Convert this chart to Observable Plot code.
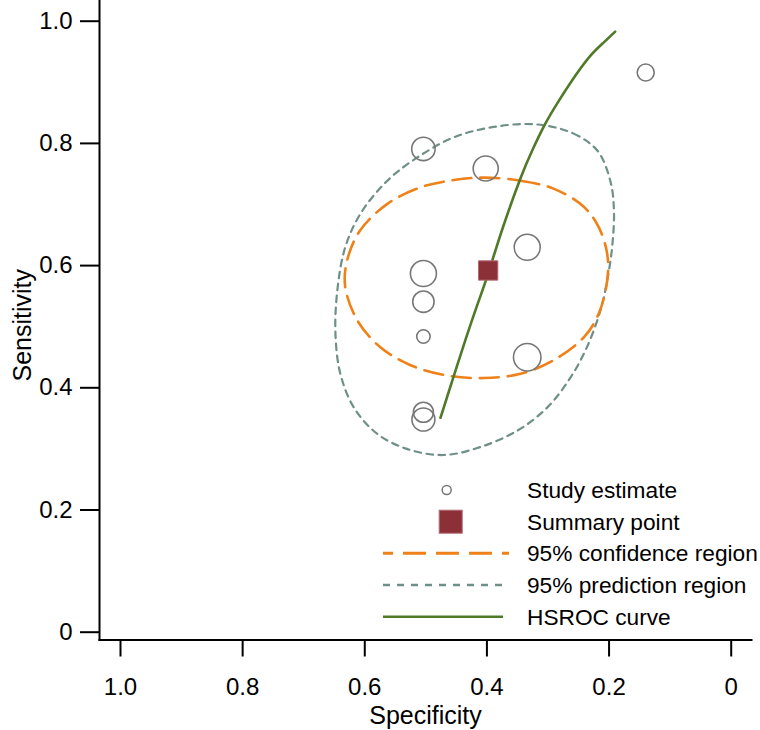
<!DOCTYPE html>
<html>
<head>
<meta charset="utf-8">
<script src="https://cdn.jsdelivr.net/npm/d3@7"></script>
<script src="https://cdn.jsdelivr.net/npm/@observablehq/plot@0.6"></script>
<style>
  html, body { margin: 0; padding: 0; background: #fff; }
  #chart { position: relative; width: 760px; height: 730px; font-family: "Liberation Sans", Arial, Helvetica, sans-serif; }
  #legend { position: absolute; left: 380px; top: 465px; }
</style>
</head>
<body>
<div id="chart"></div>
<script>
// ---- Data ----
const studySpec   = [0.504, 0.402, 0.504, 0.504, 0.504, 0.334, 0.334, 0.504, 0.504, 0.140];
const studySens   = [0.791, 0.759, 0.587, 0.541, 0.484, 0.630, 0.450, 0.360, 0.348, 0.916];
const studyWeight = [137, 156, 169, 114, 45, 169, 188, 100, 132, 72];

const summarySpec = [0.398];
const summarySens = [0.592];

const hsrocSpec = [0.476, 0.455, 0.434, 0.416, 0.398, 0.374, 0.345, 0.326, 0.305, 0.282, 0.255, 0.230, 0.209, 0.190];
const hsrocSens = [0.351, 0.417, 0.482, 0.535, 0.587, 0.662, 0.743, 0.788, 0.831, 0.870, 0.911, 0.944, 0.965, 0.983];

const confSpec = [0.405, 0.345, 0.291, 0.241, 0.217, 0.203, 0.203, 0.217, 0.241, 0.291, 0.345, 0.405, 0.465, 0.525, 0.574, 0.612, 0.632, 0.629, 0.608, 0.563, 0.509, 0.454];
const confSens = [0.744, 0.739, 0.726, 0.696, 0.663, 0.619, 0.576, 0.521, 0.483, 0.445, 0.423, 0.416, 0.420, 0.437, 0.466, 0.510, 0.565, 0.608, 0.657, 0.701, 0.728, 0.740];

const predSpec = [0.318, 0.258, 0.219, 0.198, 0.192, 0.195, 0.203, 0.214, 0.236, 0.263, 0.301, 0.350, 0.411, 0.471, 0.531, 0.580, 0.618, 0.640, 0.648, 0.645, 0.632, 0.607, 0.563, 0.514, 0.454, 0.389];
const predSens = [0.831, 0.816, 0.788, 0.739, 0.690, 0.630, 0.576, 0.527, 0.467, 0.417, 0.368, 0.330, 0.303, 0.290, 0.300, 0.325, 0.368, 0.423, 0.488, 0.559, 0.630, 0.685, 0.739, 0.777, 0.810, 0.827];

const tickValues = [0, 0.2, 0.4, 0.6, 0.8, 1.0];
const tickLabels = ["0", "0.2", "0.4", "0.6", "0.8", "1.0"];

const xTitle = "Specificity";
const yTitle = "Sensitivity";
const legendLabels = ["Study estimate", "Summary point", "95% confidence region", "95% prediction region", "HSROC curve"];

// ---- Tables built from the arrays ----
const studies = studySpec.map((s, i) => ({spec: s, sens: studySens[i], w: studyWeight[i]}));
const summary = summarySpec.map((s, i) => ({spec: s, sens: summarySens[i]}));
const hsroc = hsrocSpec.map((s, i) => ({spec: s, sens: hsrocSens[i]}));
const conf = confSpec.map((s, i) => ({spec: s, sens: confSens[i]}));
const pred = predSpec.map((s, i) => ({spec: s, sens: predSens[i]}));

const fmt = d => tickLabels[tickValues.findIndex(t => Math.abs(t - d) < 1e-9)];

const COL = {
  conf: "#ef8119",
  pred: "#6e9088",
  hsroc: "#4f7a28",
  summary: "#8c3037",
  summaryStroke: "#b16a70",
  study: "#777777"
};
const FONT = '"Liberation Sans", Arial, Helvetica, sans-serif';

const plot = Plot.plot({
  width: 760,
  height: 730,
  marginLeft: 99,
  marginRight: 9,
  marginTop: 0,
  marginBottom: 90.5,
  style: {fontFamily: FONT, fontSize: "24px", background: "#fff", color: "#000"},
  x: {domain: [1, 0], insetLeft: 21, insetRight: 20.3},
  y: {domain: [0, 1], insetTop: 20.7, insetBottom: 7.8},
  r: {type: "sqrt", domain: [0, 190], range: [0, 13.8]},
  marks: [
    Plot.frame({anchor: "left", stroke: "#000", strokeWidth: 2}),
    Plot.frame({anchor: "bottom", stroke: "#000", strokeWidth: 2}),
    Plot.axisY({ticks: tickValues, tickFormat: fmt, tickSize: 19, tickPadding: 8, strokeWidth: 2, label: null, fontSize: 24}),
    Plot.axisX({ticks: tickValues, tickFormat: fmt, tickSize: 17, tickPadding: 21, strokeWidth: 2, label: null, fontSize: 24}),
    Plot.text([yTitle], {frameAnchor: "left", textAnchor: "middle", rotate: -90, lineAnchor: "middle", dx: -77, dy: 5, fontSize: 25, fill: "#000"}),
    Plot.text([xTitle], {frameAnchor: "bottom", textAnchor: "middle", lineAnchor: "middle", dy: 76, fontSize: 25, fill: "#000"}),
    Plot.line(pred, {x: "spec", y: "sens", curve: "catmull-rom-closed", stroke: COL.pred, strokeWidth: 2.2, strokeDasharray: "6.5,5.5"}),
    Plot.line(conf, {x: "spec", y: "sens", curve: "catmull-rom-closed", stroke: COL.conf, strokeWidth: 2.6, strokeDasharray: "19,9"}),
    Plot.dot(studies, {x: "spec", y: "sens", r: "w", stroke: COL.study, strokeWidth: 1.6, fill: "none"}),
    Plot.line(hsroc, {x: "spec", y: "sens", curve: "natural", stroke: COL.hsroc, strokeWidth: 2.6}),
    Plot.dot(summary, {x: "spec", y: "sens", symbol: "square", r: 10.9, fill: COL.summary, stroke: COL.summaryStroke, strokeWidth: 1})
  ]
});

const chart = document.getElementById("chart");
chart.appendChild(plot);

// ---- Legend (separate SVG laid over the plot) ----
const rowY = [25, 56.7, 88.3, 120, 151.7];
const lg = d3.create("svg").attr("id", "legend").attr("width", 380).attr("height", 170)
  .style("font-family", FONT);
lg.append("circle").attr("cx", 66.7).attr("cy", rowY[0]).attr("r", 4.5)
  .attr("fill", "none").attr("stroke", COL.study).attr("stroke-width", 1.5);
lg.append("rect").attr("x", 70.7 - 11.5).attr("y", rowY[1] - 11.5).attr("width", 23).attr("height", 23)
  .attr("fill", COL.summary).attr("stroke", COL.summaryStroke).attr("stroke-width", 1);
lg.append("line").attr("x1", 3).attr("x2", 129).attr("y1", rowY[2]).attr("y2", rowY[2])
  .attr("stroke", COL.conf).attr("stroke-width", 3).attr("stroke-dasharray", "23,10").attr("stroke-dashoffset", 13);
lg.append("line").attr("x1", 3).attr("x2", 125).attr("y1", rowY[3]).attr("y2", rowY[3])
  .attr("stroke", COL.pred).attr("stroke-width", 2.5).attr("stroke-dasharray", "7,7");
lg.append("line").attr("x1", 3).attr("x2", 123).attr("y1", rowY[4]).attr("y2", rowY[4])
  .attr("stroke", COL.hsroc).attr("stroke-width", 2.6);
legendLabels.forEach((t, i) => {
  lg.append("text").attr("x", 147).attr("y", rowY[i] + 8).attr("font-size", 22.7).attr("fill", "#000").text(t);
});
chart.appendChild(lg.node());
</script>
</body>
</html>
